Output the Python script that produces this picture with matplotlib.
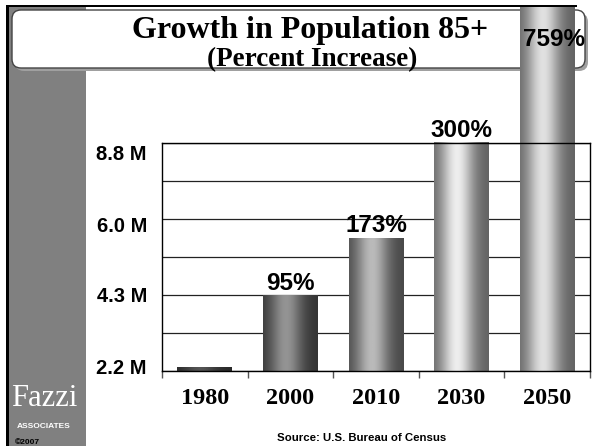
import numpy as np
import matplotlib
matplotlib.use('Agg')
import matplotlib.pyplot as plt
from matplotlib.patches import Rectangle, FancyBboxPatch
from matplotlib.transforms import IdentityTransform, Bbox

plt.rcParams['font.family'] = 'Liberation Sans'

# data (millions of people aged 85+)
years = ['1980', '2000', '2010', '2030', '2050']
pop_millions = [2.2, 4.3, 6.0, 8.8, 18.9]
pct_labels = ['', '95%', '173%', '300%', '759%']
axis_labels = ['2.2 M', '4.3 M', '6.0 M', '8.8 M']

# (edge, highlight) grey levels for the cylinder look of each bar
shades = [(0.16, 0.33), (0.2, 0.58), (0.28, 0.73), (0.38, 0.93), (0.38, 0.88)]

W, H = 594, 446
fig = plt.figure(figsize=(W / 100, H / 100), dpi=100)
px = IdentityTransform()

# slide decoration: grey strip, black frame, title box with shadow
fig.add_artist(Rectangle((9, 0), 77, H - 7, transform=px, facecolor='#808080',
                         edgecolor='none', lw=0, zorder=0))
fig.add_artist(FancyBboxPatch((15, H - 71), 573, 58, boxstyle='round,pad=0,rounding_size=9',
                              transform=px, facecolor='#a0a0a0', edgecolor='none', zorder=0.9))
fig.add_artist(FancyBboxPatch((12, H - 68), 573, 58, boxstyle='round,pad=0,rounding_size=9',
                              transform=px, facecolor='white', edgecolor='#444444', lw=1, zorder=1))
fig.add_artist(Rectangle((6, 0), 3, H - 5, transform=px, facecolor='black',
                         edgecolor='none', lw=0, zorder=5))
fig.add_artist(Rectangle((6, H - 7), 571, 2, transform=px, facecolor='black',
                         edgecolor='none', lw=0, zorder=5))

fig.text(310 / W, (H - 38) / H, 'Growth in Population 85+', family='Liberation Serif',
         weight='bold', size=23, ha='center', va='baseline')
fig.text(312 / W, (H - 66) / H, '(Percent Increase)', family='Liberation Serif',
         weight='bold', size=19.5, ha='center', va='baseline')

ax = fig.add_axes([162 / W, 75 / H, 428 / W, 228 / H], zorder=2)
x = np.arange(len(years))
ymin, ymax = 2.09, 8.8

bars = ax.bar(x, pop_millions, width=0.64, facecolor='none', edgecolor='none')
t = np.linspace(0, 1, 200)
prof = np.exp(-((t - 0.42) / 0.3) ** 2)
clip = Bbox([[0, 0], [W, H - 6]])
for bar, (edge, peak) in zip(bars, shades):
    x0 = bar.get_x()
    img = edge + (peak - edge) * prof
    im = ax.imshow(img[None, :], cmap='gray', vmin=0, vmax=1, aspect='auto',
                   interpolation='bilinear', zorder=2,
                   extent=[x0, x0 + bar.get_width(), ymin, bar.get_height()])
    im.set_clip_box(clip)

ax.set_xlim(-0.5, 4.5)
ax.set_ylim(ymin, ymax)
ax.set_yticks(np.linspace(ymin, ymax, 7))
ax.yaxis.grid(True, color='#222222', lw=0.9)
ax.set_axisbelow(True)
ax.tick_params(axis='y', length=0, labelleft=False)
ax.set_xticks(x, years, family='Liberation Serif', weight='bold', size=17.5)
ax.tick_params(axis='x', which='major', length=0, pad=12)
ax.set_xticks(np.arange(-0.5, 5, 1), minor=True)
ax.tick_params(axis='x', which='minor', length=5, width=1, color='#555555', direction='out')
for s in ax.spines.values():
    s.set_color('black')
    s.set_linewidth(1)

for i in range(1, 4):
    ax.annotate(pct_labels[i], (x[i], pop_millions[i]), xytext=(0, 4.5),
                textcoords='offset points', ha='center', va='baseline',
                size=17.5, weight='bold')
fig.text(554 / W, (H - 40) / H, pct_labels[4], ha='center', va='center',
         size=17.5, weight='bold', zorder=6)

for lab, ypx in zip(axis_labels, [368, 297, 226, 154]):
    fig.text(147 / W, (H - ypx) / H, lab, ha='right', va='center', size=14.5, weight='bold')

# logo in the grey strip
fig.text(44 / W, (H - 399) / H, 'Fazzi', color='white', family='Liberation Serif',
         size=22, ha='center', va='center')
fig.text(44 / W, (H - 427) / H, 'ASSOCIATES', color='white', weight='bold',
         size=6, ha='center', va='center')
fig.text(15 / W, (H - 442) / H, '\u00a92007', color='black', weight='bold',
         size=6, ha='left', va='center')

fig.text(362 / W, (H - 438) / H, 'Source: U.S. Bureau of Census', size=8.2,
         weight='bold', ha='center', va='center')

fig.savefig('out.png', dpi=100)
